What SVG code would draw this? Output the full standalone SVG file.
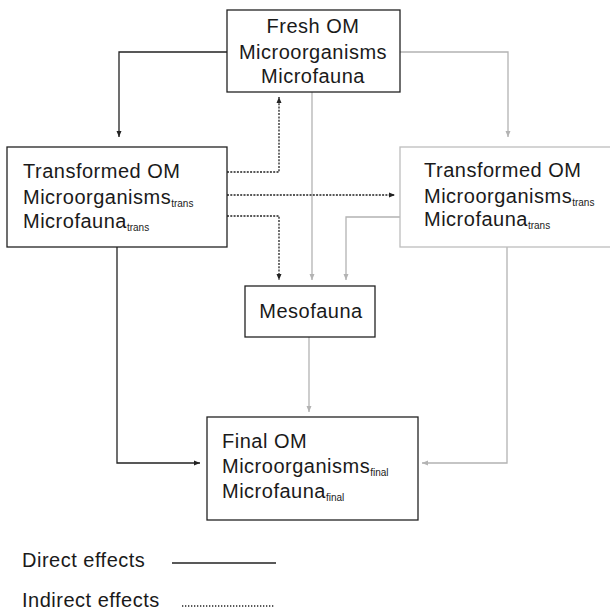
<svg xmlns="http://www.w3.org/2000/svg" width="610" height="611" viewBox="0 0 610 611">
<style>
text{font-family:"Liberation Sans",Arial,sans-serif;font-size:20px;letter-spacing:0.5px;fill:#1a1a1a}
.sub{font-size:10px;letter-spacing:0}
.box{fill:#fff;stroke:#222;stroke-width:1.3}
.gbox{fill:#fff;stroke:#bdbdbd;stroke-width:1.3}
.blk{fill:none;stroke:#222;stroke-width:1.3}
.gry{fill:none;stroke:#b3b3b3;stroke-width:1.3}
.dot{fill:none;stroke:#222;stroke-width:1.3;stroke-dasharray:2 1.3}
</style>
<defs>
<marker id="ab" viewBox="0 0 6 6" refX="6" refY="3" markerWidth="6" markerHeight="6" markerUnits="userSpaceOnUse" orient="auto"><path d="M0,0.5 L6,3 L0,5.5 z" fill="#222"/></marker>
<marker id="ag" viewBox="0 0 6 6" refX="6" refY="3" markerWidth="6" markerHeight="6" markerUnits="userSpaceOnUse" orient="auto"><path d="M0,0.5 L6,3 L0,5.5 z" fill="#b3b3b3"/></marker>
</defs>
<g id="connectors">
<path class="blk" d="M227,52 H119 V137" marker-end="url(#ab)"/>
<path class="gry" d="M400,52 H508 V137" marker-end="url(#ag)"/>
<path class="gry" d="M312,92 V280" marker-end="url(#ag)"/>
<path class="dot" d="M227,172 H279 V97" marker-end="url(#ab)"/>
<path class="dot" d="M227,195 H395" marker-end="url(#ab)"/>
<path class="dot" d="M227,216 H279 V280" marker-end="url(#ab)"/>
<path class="gry" d="M400,217 H346 V280" marker-end="url(#ag)"/>
<path class="gry" d="M309,337 V412" marker-end="url(#ag)"/>
<path class="blk" d="M117,247 V463 H200" marker-end="url(#ab)"/>
<path class="gry" d="M507,247 V463 H422" marker-end="url(#ag)"/>
</g>
<g id="fresh">
<rect class="box" x="227" y="10" width="173" height="82"/>
<text x="313" y="33" text-anchor="middle">Fresh OM</text>
<text x="313" y="59" text-anchor="middle">Microorganisms</text>
<text x="313" y="83" text-anchor="middle">Microfauna</text>
</g>
<g id="transformed-left">
<rect class="box" x="7" y="147" width="220" height="100"/>
<text x="23" y="178">Transformed OM</text>
<text x="23" y="204">Microorganisms<tspan class="sub" dy="3">trans</tspan></text>
<text x="23" y="228">Microfauna<tspan class="sub" dy="3">trans</tspan></text>
</g>
<g id="transformed-right">
<rect class="gbox" x="400" y="147" width="215" height="100"/>
<text x="424" y="177">Transformed OM</text>
<text x="424" y="203">Microorganisms<tspan class="sub" dy="3">trans</tspan></text>
<text x="424" y="226">Microfauna<tspan class="sub" dy="3">trans</tspan></text>
</g>
<g id="mesofauna">
<rect class="box" x="245" y="286" width="130" height="51"/>
<text x="311" y="318" text-anchor="middle">Mesofauna</text>
</g>
<g id="final">
<rect class="box" x="207" y="417" width="211" height="103"/>
<text x="222" y="448">Final OM</text>
<text x="222" y="473">Microorganisms<tspan class="sub" dy="3">final</tspan></text>
<text x="222" y="498">Microfauna<tspan class="sub" dy="3">final</tspan></text>
</g>
<g id="legend">
<text x="22" y="567">Direct effects</text>
<line class="blk" x1="172" y1="563" x2="276" y2="563"/>
<text x="22" y="607">Indirect effects</text>
<line class="dot" x1="182" y1="606" x2="275" y2="606" style="stroke-dasharray:1.3 1.7"/>
</g>
</svg>
